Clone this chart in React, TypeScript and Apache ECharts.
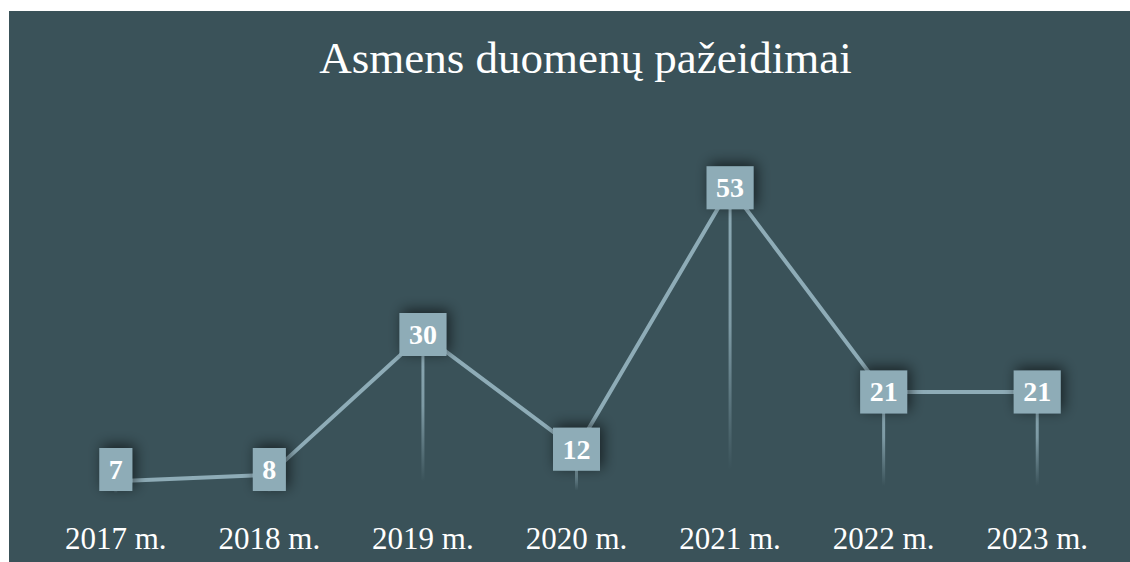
import React, { useEffect, useRef } from "react";
import * as echarts from "echarts";

const titleText = "Asmens duomenų pažeidimai";
const years = ["2017 m.", "2018 m.", "2019 m.", "2020 m.", "2021 m.", "2022 m.", "2023 m."];
const values = [7, 8, 30, 12, 53, 21, 21];

const BG = "#3a5259";
const ACCENT = "#8eacb7";
const SERIF = "'Liberation Serif', 'Times New Roman', Times, serif";

export default function App() {
  const ref = useRef<HTMLDivElement>(null);

  useEffect(() => {
    if (!ref.current) return;
    const chart = echarts.init(ref.current, undefined, { renderer: "svg" });
    const labelBottomLimit = 480;
    chart.setOption({
      animation: false,
      backgroundColor: BG,
      title: {
        text: titleText,
        left: "center",
        top: 19,
        textStyle: {
          color: "#ffffff",
          fontFamily: SERIF,
          fontSize: 45,
          fontWeight: "normal",
        },
      },
      grid: { left: 30, right: 48, top: 132, bottom: 68 },
      xAxis: {
        type: "category",
        data: years,
        boundaryGap: true,
        axisLine: { show: false },
        axisTick: { show: false },
        splitLine: { show: false },
        axisLabel: {
          color: "#ffffff",
          fontFamily: SERIF,
          fontSize: 31,
          margin: 29,
        },
      },
      yAxis: {
        type: "value",
        min: 5,
        max: 60,
        startValue: 5,
        show: false,
        splitLine: { show: false },
      },
      series: [
        {
          type: "bar",
          data: values,
          barWidth: 3,
          silent: true,
          z: 1,
          itemStyle: {
            color: new echarts.graphic.LinearGradient(0, 0, 0, 1, [
              { offset: 0, color: "rgba(142,172,183,1)" },
              { offset: 0.45, color: "rgba(142,172,183,0.8)" },
              { offset: 0.92, color: "rgba(142,172,183,0)" },
              { offset: 1, color: "rgba(142,172,183,0)" },
            ]),
          },
        },
        {
          type: "line",
          data: values,
          z: 3,
          symbol: "rect",
          symbolSize: 2,
          itemStyle: { color: ACCENT },
          lineStyle: { color: ACCENT, width: 4 },
          label: {
            show: true,
            position: "inside",
            formatter: "{c}",
            color: "#ffffff",
            fontFamily: SERIF,
            fontWeight: "bold",
            fontSize: 28,
            lineHeight: 28,
            backgroundColor: ACCENT,
            padding: [8, 9.5, 7, 9.5],
            shadowBlur: 14,
            shadowColor: "rgba(0,0,0,0.6)",
            shadowOffsetX: 3,
            shadowOffsetY: -3,
          },
          labelLayout: (params: any) => {
            const r = params.labelRect;
            if (r && r.y + r.height > labelBottomLimit) {
              return {
                y: labelBottomLimit - r.height / 2,
                align: "center",
                verticalAlign: "middle",
              };
            }
            return {};
          },
        },
      ],
    });
    return () => chart.dispose();
  }, []);

  return (
    <div
      ref={ref}
      style={{ position: "fixed", left: 9, top: 11, width: 1153, height: 551 }}
    />
  );
}
